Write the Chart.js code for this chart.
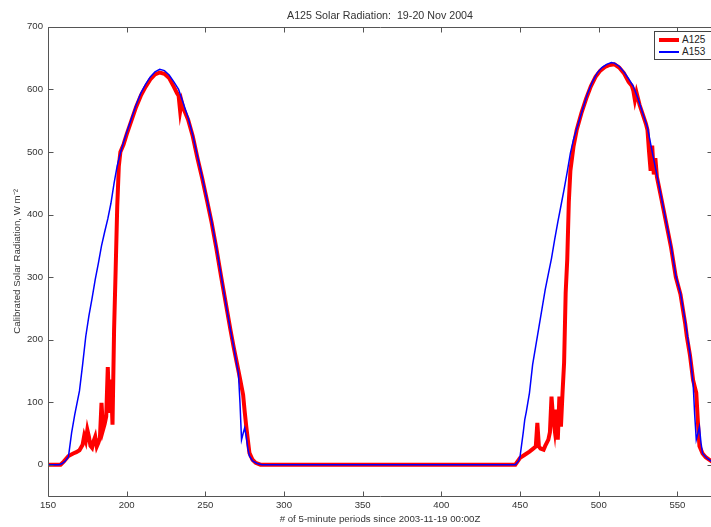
<!DOCTYPE html>
<html>
<head>
<meta charset="utf-8">
<script src="https://cdn.jsdelivr.net/npm/chart.js@4"></script>
<style>
  body { margin: 0; overflow: hidden; background: #fff; }
  #wrap { position: absolute; left: 0; top: 0; width: 760px; height: 527px; }
  #legend {
    position: absolute; left: 654px; top: 31px; width: 70px; height: 27px;
    border: 1px solid #444; background: #fff;
    font: 10px "Liberation Sans", Arial, sans-serif; color: #222;
  }
  .legend-row { position: absolute; left: 0; height: 12px; width: 70px; }
  .legend-line { position: absolute; left: 4px; width: 20px; }
  .legend-text { position: absolute; left: 27px; top: 0; line-height: 12px; }
</style>
</head>
<body>
<div id="wrap">
  <canvas id="solarChart" width="760" height="527"></canvas>
  <div id="legend"></div>
</div>
<script>
// A125 (red, thick)
const a125X = [150, 158, 160, 163, 166, 168, 170, 172, 173, 174, 175, 176, 177, 178, 179, 180, 181, 182, 183, 184, 185, 186, 187, 188, 189, 190, 191, 192, 193, 194, 195, 196, 198, 200, 203, 206, 209, 212, 215, 218, 221, 224, 227, 230, 232, 233, 234, 235, 236, 239, 242, 245, 248, 251, 254, 257, 260, 263, 266, 268, 270, 272, 274, 275, 276, 277, 278, 280, 282, 285,
               447, 450, 453, 456, 458, 460, 461, 462, 463, 465, 466, 468, 469, 470, 471, 472, 473, 474, 475, 476, 477, 478, 479, 480, 481, 482, 484, 486, 489, 492, 495, 498, 501, 504, 507, 510, 513, 516, 519, 521, 522, 523, 524, 526, 528, 530, 531, 532, 533, 534, 535, 536, 537, 540, 543, 546, 549, 552, 555, 556, 558, 560, 562, 563, 564, 566, 568, 572];
const a125Y = [0, 0, 5, 14, 18, 20, 23, 32, 46, 38, 56, 45, 30, 27, 38, 45, 29, 35, 43, 99, 56, 65, 77, 156, 83, 136, 64, 216, 312, 413, 477, 500, 512, 528, 550, 572, 590, 604, 616, 624, 627, 625, 618, 604, 594, 590, 565, 580, 570, 552, 525, 490, 458, 423, 387, 346, 301, 258, 215, 188, 163, 138, 112, 85, 61, 40, 19, 8, 3, 0,
               0, 11, 16, 21, 25, 29, 67, 29, 26, 24, 30, 40, 52, 109, 75, 56, 88, 40, 109, 61, 115, 163, 275, 328, 420, 470, 509, 535, 562, 585, 605, 620, 630, 636, 639, 640, 635, 626, 612, 606, 598, 583, 595, 575, 560, 545, 535, 500, 470, 510, 464, 490, 460, 423, 385, 347, 300, 272, 225, 205, 175, 135, 115, 70, 30, 18, 12, 5];

// A153 (blue, thin)
const a153X = [150, 157, 159, 161, 163, 165, 167, 170, 172, 174, 176, 178, 180, 182, 184, 186, 188, 190, 192, 194, 196, 198, 200, 203, 206, 209, 212, 215, 218, 221, 224, 227, 230, 233, 236, 239, 242, 245, 248, 251, 254, 257, 260, 263, 266, 268, 270, 271, 272, 273, 274, 275, 276, 277, 278, 280, 283, 286,
               447, 449, 450, 452, 453, 454, 456, 458, 460, 462, 464, 466, 468, 470, 472, 474, 476, 478, 480, 482, 484, 487, 490, 493, 496, 499, 502, 505, 508, 510, 513, 516, 519, 522, 525, 528, 531, 534, 537, 540, 543, 546, 549, 552, 555, 558, 560, 561, 562, 563, 564, 565, 566, 569, 572];
const a153Y = [0, 0, 2, 6, 13, 51, 80, 118, 160, 205, 238, 266, 296, 322, 350, 372, 393, 418, 450, 478, 498, 515, 531, 553, 575, 594, 608, 620, 628, 632, 630, 623, 612, 600, 578, 555, 527, 493, 460, 425, 389, 348, 303, 258, 215, 189, 160, 147, 100, 40, 50, 59, 45, 26, 14, 6, 2, 0,
               0, 6, 13, 51, 72, 85, 115, 160, 190, 220, 250, 280, 305, 330, 360, 388, 414, 440, 468, 498, 520, 545, 570, 594, 612, 626, 635, 640, 643, 642, 637, 628, 617, 605, 585, 562, 539, 500, 463, 425, 387, 349, 302, 274, 229, 178, 130, 80, 40, 50, 61, 35, 18, 10, 5];

const seriesNames = ["A125", "A153"];
const seriesColors = ["#ff0000", "#0000ff"];
const seriesWidths = [4, 1.5];

const xTickStep = 50;
const yTickStep = 100;

const textFont = '"Liberation Sans", Arial, Helvetica, sans-serif';
const textColor = "#333";

const toPoints = (xs, ys) => xs.map((x, i) => ({ x: x, y: ys[i] }));

// MATLAB-style box with inward ticks on all four sides
const boxPlugin = {
  id: "boxPlugin",
  afterDraw(chart) {
    const { ctx, chartArea: a, scales } = chart;
    const tl = 5;
    ctx.save();
    ctx.strokeStyle = "#555";
    ctx.lineWidth = 1;
    ctx.beginPath();
    const L = Math.round(a.left) + 0.5, R = Math.round(a.right) + 0.5;
    const T = Math.round(a.top) + 0.5, B = Math.round(a.bottom) + 0.5;
    ctx.moveTo(L, T); ctx.lineTo(R, T); ctx.lineTo(R, B); ctx.lineTo(L, B); ctx.closePath();
    scales.x.ticks.forEach(t => {
      const px = Math.round(scales.x.getPixelForValue(t.value)) + 0.5;
      ctx.moveTo(px, B); ctx.lineTo(px, B - tl);
      ctx.moveTo(px, T); ctx.lineTo(px, T + tl);
    });
    scales.y.ticks.forEach(t => {
      const py = Math.round(scales.y.getPixelForValue(t.value)) + 0.5;
      ctx.moveTo(L, py); ctx.lineTo(L + tl, py);
      ctx.moveTo(R, py); ctx.lineTo(R - tl, py);
    });
    ctx.stroke();
    ctx.restore();
  }
};

const ctx = document.getElementById("solarChart").getContext("2d");
new Chart(ctx, {
  type: "line",
  data: {
    datasets: [
      {
        label: seriesNames[0],
        data: toPoints(a125X, a125Y),
        borderColor: seriesColors[0],
        borderWidth: seriesWidths[0],
        pointRadius: 0,
        tension: 0,
        order: 1
      },
      {
        label: seriesNames[1],
        data: toPoints(a153X, a153Y),
        borderColor: seriesColors[1],
        borderWidth: seriesWidths[1],
        pointRadius: 0,
        tension: 0,
        order: 0
      }
    ]
  },
  options: {
    responsive: false,
    animation: false,
    events: [],
    layout: { padding: { left: 0, right: 48, top: 0, bottom: 0 } },
    plugins: {
      legend: { display: false },
      tooltip: { enabled: false },
      title: {
        display: true,
        text: "A125 Solar Radiation:  19-20 Nov 2004",
        fullSize: false,
        color: textColor,
        font: { family: textFont, size: 10.7, weight: "normal" },
        padding: { top: 10, bottom: 4 }
      }
    },
    scales: {
      x: {
        type: "linear",
        min: 150,
        max: 572,
        grid: { display: false, drawTicks: false },
        border: { display: false },
        ticks: {
          stepSize: xTickStep,
          autoSkip: false,
          maxRotation: 0,
          padding: 4,
          color: textColor,
          font: { family: textFont, size: 9.6 }
        },
        afterBuildTicks(scale) {
          scale.ticks = scale.ticks.filter(t => t.value % xTickStep === 0);
        },
        title: {
          display: true,
          text: "# of 5-minute periods since 2003-11-19 00:00Z",
          color: textColor,
          font: { family: textFont, size: 9.7 },
          padding: { top: 0, bottom: 2 }
        },
        afterFit(scale) { scale.height = 31; }
      },
      y: {
        min: -50,
        max: 700,
        grid: { display: false, drawTicks: false },
        border: { display: false },
        ticks: {
          stepSize: yTickStep,
          padding: 5,
          color: textColor,
          font: { family: textFont, size: 9.6 }
        },
        afterBuildTicks(scale) {
          scale.ticks = scale.ticks.filter(t => t.value % yTickStep === 0);
        },
        title: {
          display: true,
          text: "Calibrated Solar Radiation, W m\u207B\u00B2",
          color: textColor,
          font: { family: textFont, size: 9.7 },
          padding: { top: 12, bottom: 0 }
        },
        afterFit(scale) { scale.width = 48; }
      }
    }
  },
  plugins: [boxPlugin]
});

// legend built from the series
const legendElem = document.getElementById("legend");
legendElem.innerHTML = seriesNames.map((name, i) => `
  <div class="legend-row" style="top:${2 + i * 12}px">
    <span class="legend-line" style="top:${6 - seriesWidths[i] / 2}px;height:${seriesWidths[i]}px;background:${seriesColors[i]}"></span>
    <span class="legend-text">${name}</span>
  </div>`).join("");
</script>
</body>
</html>
